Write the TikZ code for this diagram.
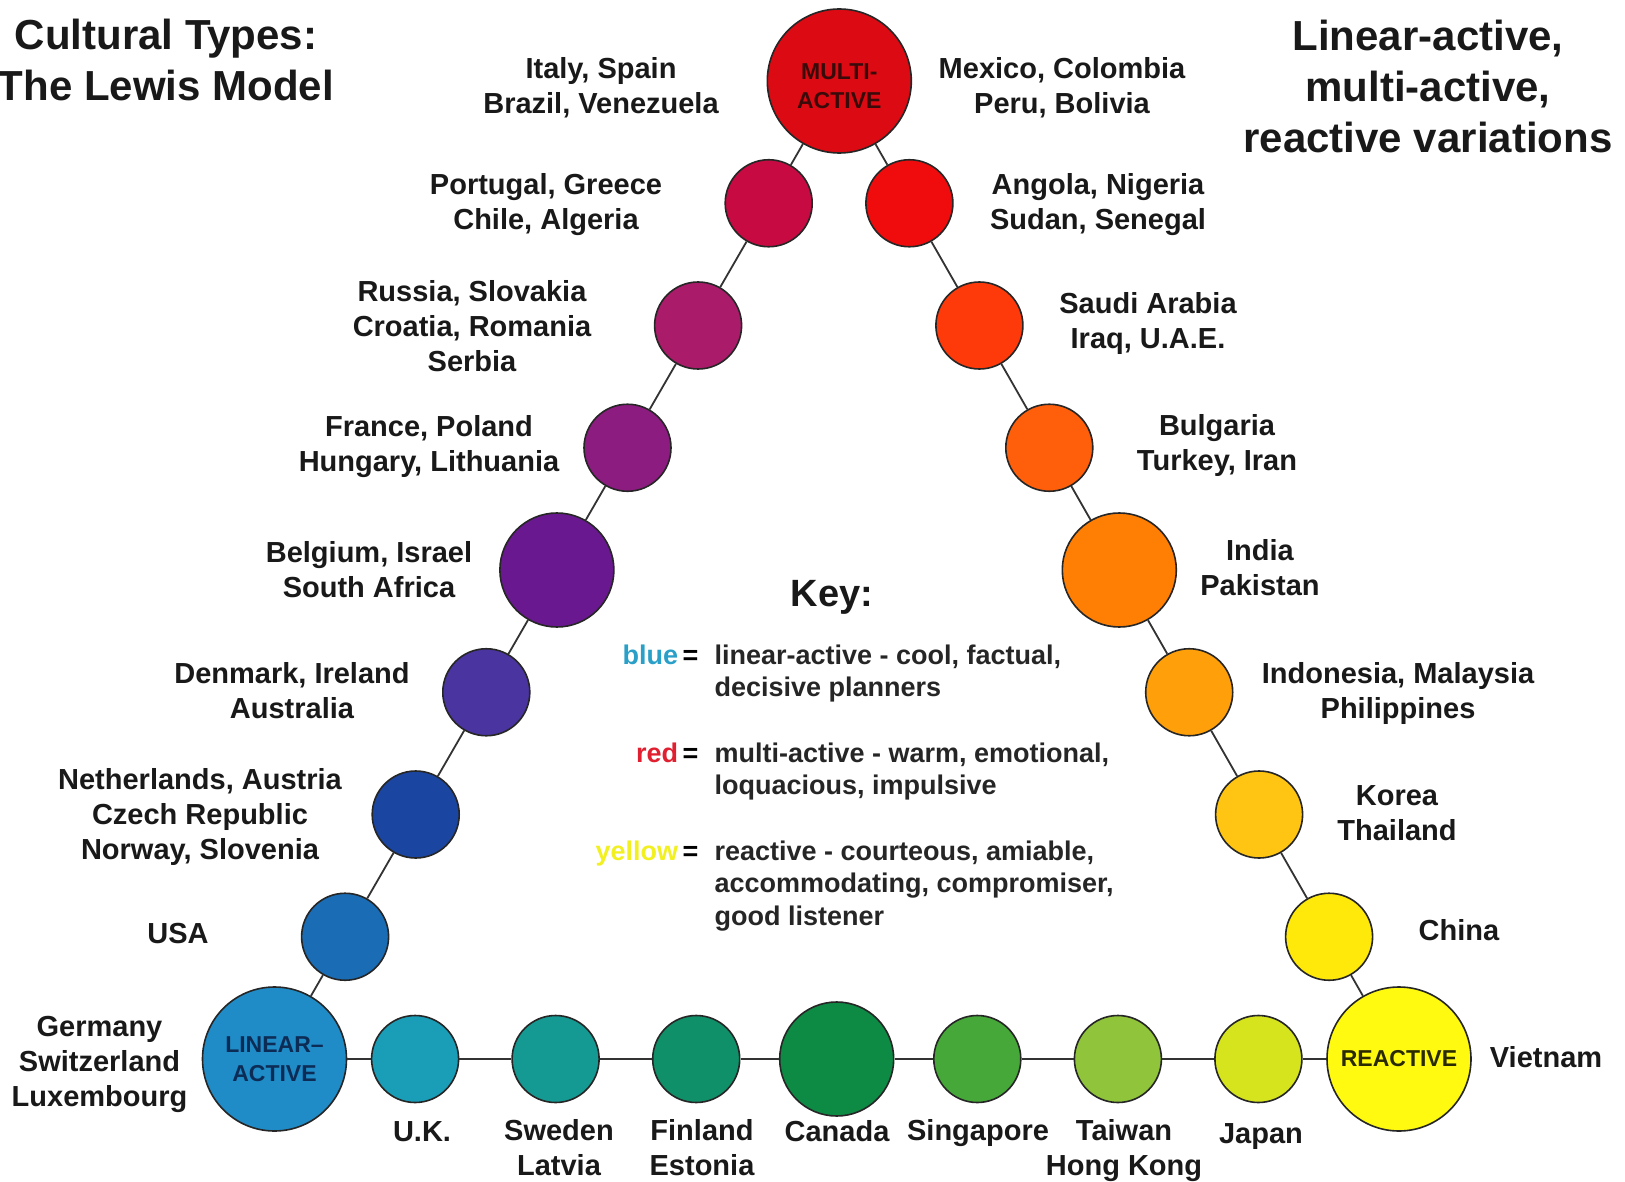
\documentclass[tikz,border=0pt]{standalone}
\usepackage{fontspec}
\setmainfont{Liberation Sans}
\definecolor{cL}{HTML}{1F8CC8}
\definecolor{cUS}{HTML}{1A6CB5}
\definecolor{cNL}{HTML}{1A45A0}
\definecolor{cDK}{HTML}{4A34A0}
\definecolor{cBE}{HTML}{6A1890}
\definecolor{cFR}{HTML}{8C1C80}
\definecolor{cRU}{HTML}{AA1C6A}
\definecolor{cPT}{HTML}{C80A42}
\definecolor{cM}{HTML}{DC0A12}
\definecolor{cAO}{HTML}{F00C0C}
\definecolor{cSA}{HTML}{FF3A0A}
\definecolor{cBG}{HTML}{FF5E0A}
\definecolor{cIN}{HTML}{FF7F05}
\definecolor{cID}{HTML}{FFA00A}
\definecolor{cKR}{HTML}{FFC512}
\definecolor{cCN}{HTML}{FFE90A}
\definecolor{cR}{HTML}{FFFA10}
\definecolor{cUK}{HTML}{1A9EB8}
\definecolor{cSE}{HTML}{149A92}
\definecolor{cFI}{HTML}{0F9068}
\definecolor{cCA}{HTML}{0D8A44}
\definecolor{cSG}{HTML}{46A838}
\definecolor{cTW}{HTML}{90C43A}
\definecolor{cJP}{HTML}{D6E41E}
\definecolor{tL}{HTML}{0C2C55}
\definecolor{tM}{HTML}{3A0A0A}
\definecolor{tR}{HTML}{2A2A00}
\definecolor{keyblue}{HTML}{2AA0C8}
\definecolor{keyred}{HTML}{E02030}
\definecolor{keyyellow}{HTML}{F2F020}
\begin{document}
\begin{tikzpicture}[x=1pt,y=-1pt,
  dot/.style={circle,draw=black!85,line width=1.6pt,inner sep=0pt,minimum size=87pt},
  middot/.style={dot,minimum size=114pt},
  bigdot/.style={dot,minimum size=144pt,align=center,font=\fontsize{23}{29}\selectfont\bfseries},
  lbl/.style={font=\fontsize{29}{35}\selectfont\bfseries,align=center,text=black!90},
  keytxt/.style={font=\fontsize{27}{32.5}\selectfont\bfseries,align=left,text=black!85,anchor=base west},
  keylbl/.style={font=\fontsize{27}{32.5}\selectfont\bfseries,anchor=base east},
  ttl/.style={font=\fontsize{42}{51}\selectfont\bfseries,align=center,text=black!90},
  link/.style={draw=black!80,line width=1.8pt}]
\useasboundingbox (0,0) rectangle (1625,1182);
\fill[white] (0,0) rectangle (1625,1182);

% titles
\node[ttl] (t1) at (166,60) {Cultural Types:\\The Lewis Model};
\node[ttl] (t2) at (1428,86) {Linear-active,\\multi-active,\\reactive variations};

% corner circles
\node[bigdot,fill=cL,text=tL] (L) at (274.5,1059) {LINEAR–\\ACTIVE};
\node[bigdot,fill=cM,text=tM] (M) at (839.3,81) {\raisebox{-13pt}[0pt][0pt]{\begin{tabular}{@{}c@{}}MULTI-\\ACTIVE\end{tabular}}};
\node[bigdot,fill=cR,text=tR] (R) at (1399,1059) {REACTIVE};

% left side
\node[dot,fill=cUS] (US) at (345.1,936.75) {};
\node[dot,fill=cNL] (NL) at (415.7,814.5) {};
\node[dot,fill=cDK] (DK) at (486.3,692.25) {};
\node[middot,fill=cBE] (BE) at (556.9,570) {};
\node[dot,fill=cFR] (FR) at (627.5,447.75) {};
\node[dot,fill=cRU] (RU) at (698.1,325.5) {};
\node[dot,fill=cPT] (PT) at (768.7,203.25) {};

% right side
\node[dot,fill=cAO] (AO) at (909.4,203.25) {};
\node[dot,fill=cSA] (SA) at (979.4,325.5) {};
\node[dot,fill=cBG] (BG) at (1049.3,447.75) {};
\node[middot,fill=cIN] (IN) at (1119.3,570) {};
\node[dot,fill=cID] (ID) at (1189.2,692.25) {};
\node[dot,fill=cKR] (KR) at (1259.1,814.5) {};
\node[dot,fill=cCN] (CN) at (1329.1,936.75) {};

% bottom
\node[dot,fill=cUK] (UK) at (415.1,1059) {};
\node[dot,fill=cSE] (SE) at (555.6,1059) {};
\node[dot,fill=cFI] (FI) at (696.2,1059) {};
\node[middot,fill=cCA] (CA) at (836.7,1059) {};
\node[dot,fill=cSG] (SG) at (977.3,1059) {};
\node[dot,fill=cTW] (TW) at (1117.9,1059) {};
\node[dot,fill=cJP] (JP) at (1258.4,1059) {};

% connectors
\draw[link] (L) -- (US) -- (NL) -- (DK) -- (BE) -- (FR) -- (RU) -- (PT) -- (M);
\draw[link] (M) -- (AO) -- (SA) -- (BG) -- (IN) -- (ID) -- (KR) -- (CN) -- (R);
\draw[link] (L) -- (UK) -- (SE) -- (FI) -- (CA) -- (SG) -- (TW) -- (JP) -- (R);

% labels
\node[lbl] (lIT) at (601,88) {Italy, Spain\\Brazil, Venezuela};
\node[lbl] (lMX) at (1062,88) {Mexico, Colombia\\Peru, Bolivia};
\node[lbl] (lPT) at (546,205) {Portugal, Greece\\Chile, Algeria};
\node[lbl] (lAO) at (1098,205) {Angola, Nigeria\\Sudan, Senegal};
\node[lbl] (lRU) at (472,326) {Russia, Slovakia\\Croatia, Romania\\Serbia};
\node[lbl] (lSA) at (1148,324) {Saudi Arabia\\Iraq, U.A.E.};
\node[lbl] (lFR) at (429,447) {France, Poland\\Hungary, Lithuania};
\node[lbl] (lBG) at (1217,446) {Bulgaria\\Turkey, Iran};
\node[lbl] (lBE) at (369,570) {Belgium, Israel\\South Africa};
\node[lbl] (lIN) at (1260,568) {India\\Pakistan};
\node[lbl] (lDK) at (292,691) {Denmark, Ireland\\Australia};
\node[lbl] (lID) at (1398,693) {Indonesia, Malaysia\\Philippines};
\node[lbl] (lNL) at (200,817) {Netherlands, Austria\\Czech Republic\\Norway, Slovenia};
\node[lbl] (lKR) at (1397,813) {Korea\\Thailand};
\node[lbl] (lUS) at (178,934) {USA};
\node[lbl] (lCN) at (1459,930) {China};
\node[lbl] (lDE) at (99.5,1064) {Germany\\Switzerland\\Luxembourg};
\node[lbl] (lVN) at (1546,1057) {Vietnam};
\node[lbl] (lUK) at (422,1132) {U.K.};
\node[lbl] (lSE) at (559,1148) {Sweden\\Latvia};
\node[lbl] (lFI) at (702,1148) {Finland\\Estonia};
\node[lbl] (lCA) at (837,1131) {Canada};
\node[lbl] (lSG) at (978,1133) {Singapore};
\node[lbl] (lTW) at (1124,1151) {Taiwan\\Hong Kong};
\node[lbl] (lJP) at (1261,1137) {Japan};

% key
\node[font=\fontsize{38}{44}\selectfont\bfseries,text=black!90] (key) at (832,597) {Key:};
\node[keylbl] (kb) at (702,664) {\textcolor{keyblue}{blue}\,=};
\node[keytxt] (kbt) at (711,696.5) {linear-active - cool, factual,\\decisive planners};
\node[keylbl] (kr) at (702,762) {\textcolor{keyred}{red}\,=};
\node[keytxt] (krt) at (711,794.5) {multi-active - warm, emotional,\\loquacious, impulsive};
\node[keylbl] (ky) at (702,860) {\textcolor{keyyellow}{yellow}\,=};
\node[keytxt] (kyt) at (711,925) {reactive - courteous, amiable,\\accommodating, compromiser,\\good listener};
\end{tikzpicture}
\end{document}
